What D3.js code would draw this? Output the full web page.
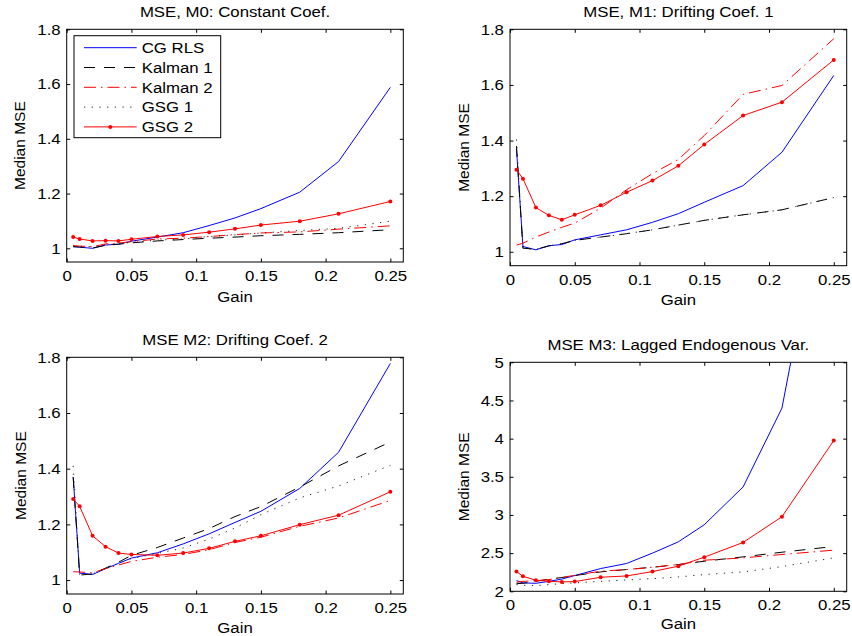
<!DOCTYPE html>
<meta charset="utf-8">
<style>
  body { margin: 0; background: #fff; }
  svg text { font-family: "Liberation Sans", Arial, Helvetica, sans-serif; font-size: 15px; fill: #000; }
  .box { fill: none; stroke: #000; stroke-width: 1px; }
  .tick line { stroke: #000; stroke-width: 1px; }
</style>
<body>
<svg width="852" height="636"></svg>
<script src="https://d3js.org/d3.v7.min.js"></script>
<script>

// ---- data ----
const gain = [0.005, 0.01, 0.02, 0.03, 0.04, 0.05, 0.07, 0.09, 0.11, 0.13, 0.15, 0.18, 0.21, 0.25];
const seriesNames = ["CG RLS", "Kalman 1", "Kalman 2", "GSG 1", "GSG 2"];

// M0: constant coefficients
const m0CgRls   = [1.006, 1.004, 1.000, 1.012, 1.015, 1.026, 1.041, 1.057, 1.083, 1.111, 1.145, 1.205, 1.317, 1.588];
const m0Kalman1 = [1.006, 1.005, 1.001, 1.011, 1.015, 1.020, 1.027, 1.032, 1.037, 1.041, 1.046, 1.051, 1.057, 1.068];
const m0Kalman2 = [1.010, 1.008, 1.006, 1.016, 1.019, 1.024, 1.034, 1.037, 1.043, 1.050, 1.056, 1.060, 1.070, 1.082];
const m0Gsg1    = [1.008, 1.007, 1.006, 1.013, 1.017, 1.022, 1.030, 1.034, 1.043, 1.049, 1.056, 1.065, 1.073, 1.099];
const m0Gsg2    = [1.041, 1.034, 1.027, 1.028, 1.027, 1.033, 1.043, 1.049, 1.059, 1.071, 1.085, 1.099, 1.126, 1.171];

// M1: drifting coefficient 1
const m1CgRls   = [1.370, 1.019, 1.007, 1.022, 1.026, 1.043, 1.061, 1.079, 1.106, 1.137, 1.178, 1.238, 1.358, 1.634];
const m1Kalman1 = [1.380, 1.013, 1.009, 1.021, 1.029, 1.041, 1.053, 1.065, 1.079, 1.096, 1.113, 1.133, 1.151, 1.195];
const m1Kalman2 = [1.024, 1.031, 1.053, 1.071, 1.088, 1.103, 1.157, 1.223, 1.281, 1.332, 1.418, 1.566, 1.598, 1.766];
const m1Gsg1    = [1.404, 1.013, 1.009, 1.021, 1.029, 1.041, 1.053, 1.065, 1.079, 1.096, 1.113, 1.133, 1.151, 1.195];
const m1Gsg2    = [1.295, 1.263, 1.159, 1.131, 1.115, 1.133, 1.167, 1.214, 1.256, 1.309, 1.386, 1.490, 1.538, 1.690];

// M2: drifting coefficient 2
const m2CgRls   = [1.370, 1.025, 1.020, 1.041, 1.060, 1.079, 1.098, 1.130, 1.166, 1.207, 1.247, 1.329, 1.459, 1.778];
const m2Kalman1 = [1.370, 1.018, 1.022, 1.043, 1.064, 1.089, 1.117, 1.151, 1.185, 1.228, 1.264, 1.334, 1.410, 1.496];
const m2Kalman2 = [1.030, 1.029, 1.026, 1.041, 1.054, 1.067, 1.082, 1.092, 1.109, 1.135, 1.154, 1.193, 1.223, 1.286];
const m2Gsg1    = [1.410, 1.020, 1.022, 1.042, 1.060, 1.077, 1.096, 1.115, 1.147, 1.187, 1.235, 1.295, 1.338, 1.412];
const m2Gsg2    = [1.291, 1.265, 1.159, 1.120, 1.097, 1.092, 1.089, 1.097, 1.114, 1.139, 1.159, 1.199, 1.233, 1.317];

// M3: lagged endogenous variable
const m3CgRls   = [2.140, 2.110, 2.105, 2.130, 2.160, 2.206, 2.298, 2.364, 2.500, 2.648, 2.872, 3.367, 4.400, 7.930];
const m3Kalman1 = [2.100, 2.105, 2.130, 2.160, 2.180, 2.206, 2.254, 2.285, 2.315, 2.350, 2.394, 2.451, 2.512, 2.587];
const m3Kalman2 = [2.118, 2.130, 2.140, 2.153, 2.180, 2.210, 2.263, 2.285, 2.315, 2.350, 2.407, 2.438, 2.482, 2.539];
const m3Gsg1    = [2.088, 2.079, 2.074, 2.088, 2.100, 2.110, 2.130, 2.149, 2.166, 2.188, 2.219, 2.254, 2.324, 2.438];
const m3Gsg2    = [2.258, 2.197, 2.145, 2.131, 2.123, 2.127, 2.184, 2.201, 2.258, 2.329, 2.447, 2.640, 2.977, 3.975];

const xTicks = [0, 0.05, 0.1, 0.15, 0.2, 0.25];
const xTickLabels = ["0", "0.05", "0.1", "0.15", "0.2", "0.25"];
const yTicksA = [1, 1.2, 1.4, 1.6, 1.8];
const yTickLabelsA = ["1", "1.2", "1.4", "1.6", "1.8"];
const yTicksM3 = [2, 2.5, 3, 3.5, 4, 4.5, 5];
const yTickLabelsM3 = ["2", "2.5", "3", "3.5", "4", "4.5", "5"];

// ---- styles / layout ----
const styles = [
  { color: "#0000ff", dash: null },
  { color: "#000000", dash: "11,9" },
  { color: "#ff0000", dash: "12,5,1.5,5" },
  { color: "#222222", dash: "1.2,6.5" },
  { color: "#ff0000", dash: null, marker: true }
];
const SX = 1.12; // glyphs in the picture are a bit wide
const TICK = 3.5;

const panels = [
  { title: "MSE, M0: Constant Coef.", data: [m0CgRls, m0Kalman1, m0Kalman2, m0Gsg1, m0Gsg2],
    yDomain: [0.95, 1.8], yTicks: yTicksA, yLabels: yTickLabelsA,
    left: 66.7, right: 403.3, top: 29.3, bottom: 262, titleY: 17.3, gainY: 301.5, ylabX: 25.3, legend: true },
  { title: "MSE, M1: Drifting Coef. 1", data: [m1CgRls, m1Kalman1, m1Kalman2, m1Gsg1, m1Gsg2],
    yDomain: [0.95, 1.8], yTicks: yTicksA, yLabels: yTickLabelsA,
    left: 510, right: 846.7, top: 29.3, bottom: 265.7, titleY: 17.3, gainY: 305, ylabX: 469 },
  { title: "MSE M2: Drifting Coef. 2", data: [m2CgRls, m2Kalman1, m2Kalman2, m2Gsg1, m2Gsg2],
    yDomain: [0.95, 1.8], yTicks: yTicksA, yLabels: yTickLabelsA,
    left: 66.7, right: 403.3, top: 357.3, bottom: 594, titleY: 345.3, gainY: 633, ylabX: 26 },
  { title: "MSE M3: Lagged Endogenous Var.", data: [m3CgRls, m3Kalman1, m3Kalman2, m3Gsg1, m3Gsg2],
    yDomain: [2, 5], yTicks: yTicksM3, yLabels: yTickLabelsM3,
    left: 510, right: 846.7, top: 362.3, bottom: 591.3, titleY: 350.3, gainY: 628.7, ylabX: 469 }
];

const svg = d3.select("svg");

panels.forEach((p, pi) => {
  const x = d3.scaleLinear().domain([0, 0.26]).range([p.left, p.right]);
  const y = d3.scaleLinear().domain(p.yDomain).range([p.bottom, p.top]);
  const g = svg.append("g");

  const clipId = "clip" + pi;
  g.append("clipPath").attr("id", clipId)
    .append("rect")
    .attr("x", p.left).attr("y", p.top)
    .attr("width", p.right - p.left).attr("height", p.bottom - p.top);

  // axes with inward ticks on all four sides
  const xb = g.append("g").attr("transform", `translate(0,${p.bottom})`)
    .call(d3.axisBottom(x).tickValues(xTicks).tickFormat((d, i) => xTickLabels[i])
      .tickSizeInner(-TICK).tickSizeOuter(0).tickPadding(8.5));
  const yl = g.append("g").attr("transform", `translate(${p.left},0)`)
    .call(d3.axisLeft(y).tickValues(p.yTicks).tickFormat((d, i) => p.yLabels[i])
      .tickSizeInner(-TICK).tickSizeOuter(0).tickPadding(5.4));
  g.append("g").attr("transform", `translate(0,${p.top})`)
    .call(d3.axisTop(x).tickValues(xTicks).tickFormat("").tickSizeInner(-TICK).tickSizeOuter(0));
  g.append("g").attr("transform", `translate(${p.right},0)`)
    .call(d3.axisRight(y).tickValues(p.yTicks).tickFormat("").tickSizeInner(-TICK).tickSizeOuter(0));

  g.selectAll(".domain").remove();
  g.selectAll(".tick text")
    .attr("fill", "#000")
    .style("font-family", null).style("font-size", null)
    .attr("font-family", null).attr("font-size", null)
    .attr("transform", `scale(${SX},1)`);

  g.append("rect").attr("class", "box")
    .attr("x", p.left).attr("y", p.top)
    .attr("width", p.right - p.left).attr("height", p.bottom - p.top);

  // series
  const line = d3.line().x(d => x(d[0])).y(d => y(d[1]));
  const plot = g.append("g").attr("clip-path", `url(#${clipId})`);
  p.data.forEach((vals, si) => {
    const st = styles[si];
    const pts = d3.zip(gain, vals);
    plot.append("path")
      .datum(pts)
      .attr("d", line)
      .attr("fill", "none")
      .attr("stroke", st.color)
      .attr("stroke-width", 1)
      .attr("stroke-dasharray", st.dash);
    if (st.marker) {
      plot.selectAll(null).data(pts).enter().append("circle")
        .attr("cx", d => x(d[0])).attr("cy", d => y(d[1]))
        .attr("r", 2).attr("fill", st.color);
    }
  });

  // labels
  const cx = (p.left + p.right) / 2;
  g.append("text").attr("text-anchor", "middle")
    .attr("transform", `translate(${cx},${p.titleY}) scale(${SX},1)`)
    .text(p.title);
  g.append("text").attr("text-anchor", "middle")
    .attr("transform", `translate(${cx},${p.gainY}) scale(${SX},1)`)
    .text("Gain");
  g.append("text").attr("text-anchor", "middle")
    .attr("transform", `translate(${p.ylabX},${(p.top + p.bottom) / 2}) rotate(-90)`)
    .style("font-size", "15.5px")
    .text("Median MSE");

  if (p.legend) {
    const lg = g.append("g");
    lg.append("rect")
      .attr("x", 74).attr("y", 35.7).attr("width", 146.7).attr("height", 102)
      .attr("fill", "#fff").attr("stroke", "#000").attr("stroke-width", 1);
    seriesNames.forEach((name, si) => {
      const st = styles[si];
      const ly = 47.7 + si * 19.8;
      lg.append("line")
        .attr("x1", 84).attr("x2", 136.7).attr("y1", ly).attr("y2", ly)
        .attr("stroke", st.color).attr("stroke-width", 1)
        .attr("stroke-dasharray", st.dash);
      if (st.marker) {
        lg.append("circle").attr("cx", 110.3).attr("cy", ly).attr("r", 2).attr("fill", st.color);
      }
      lg.append("text")
        .attr("transform", `translate(141.7,${ly + 5.3}) scale(${SX},1)`)
        .text(name);
    });
  }
});

</script>
</body>
